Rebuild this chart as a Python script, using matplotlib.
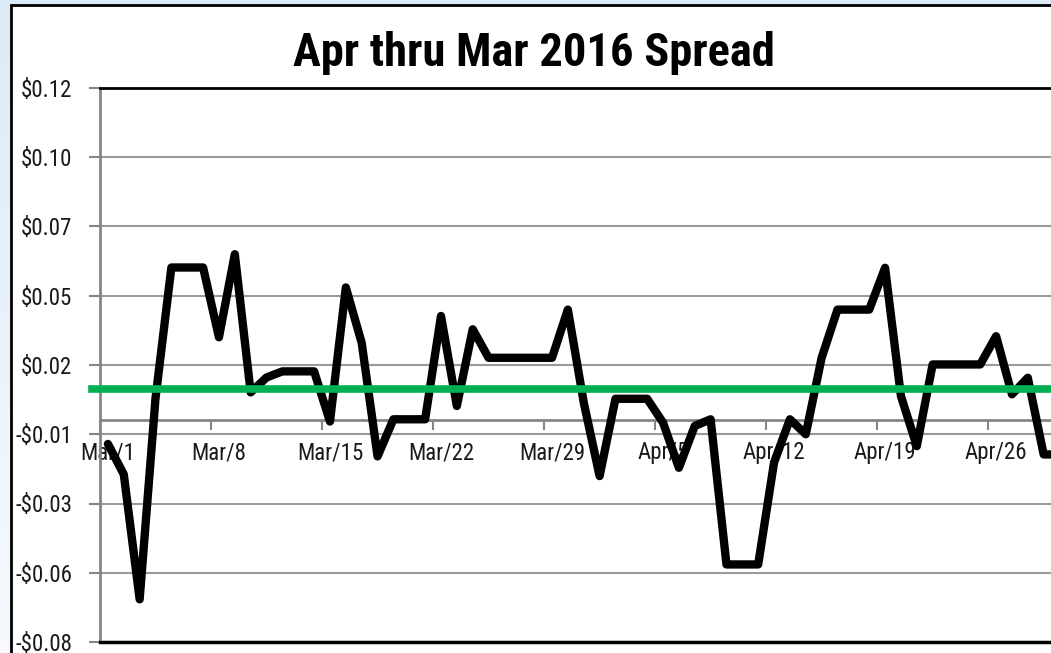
import numpy as np
import pandas as pd
import matplotlib

matplotlib.use('Agg')
import matplotlib.pyplot as plt
from matplotlib.patches import Rectangle
from matplotlib.ticker import FixedLocator, FuncFormatter

plt.rcParams['font.family'] = ['Roboto Condensed', 'Liberation Sans', 'DejaVu Sans']

# Daily spread, Mar/1 .. Apr/30 2016
dates = pd.date_range('2016-03-01', '2016-04-30', freq='D')
spread = [
    -0.0085, -0.0195, -0.0646, 0.0080, 0.0552, 0.0552, 0.0552, 0.0300, 0.0600, 0.0101,
    0.0155, 0.0177, 0.0177, 0.0177, -0.0004, 0.0480, 0.0280, -0.0130, 0.0004, 0.0004,
    0.0004, 0.0377, 0.0052, 0.0329, 0.0226, 0.0226, 0.0226, 0.0226, 0.0226, 0.0400,
    0.0065, -0.0201, 0.0078, 0.0078, 0.0078, -0.0008, -0.0171, -0.0020, 0.0004, -0.0520,
    -0.0520, -0.0520, -0.0152, 0.0004, -0.0050, 0.0226, 0.0400, 0.0400, 0.0400, 0.0551,
    0.0088, -0.0093, 0.0202, 0.0202, 0.0202, 0.0202, 0.0304, 0.0094, 0.0154, -0.0123,
    -0.0123,
]
average = 0.0115
title = "Apr thru Mar 2016 Spread"

y_min, y_max, y_step = -0.08, 0.12, 0.025

W, H = 1051, 653
fig = plt.figure(figsize=(W / 100, H / 100), dpi=100)

# light blue gradient background + white chart area with black border
bg = fig.add_axes([0, 0, 1, 1], zorder=-10)
grad = np.linspace(0, 1, 256).reshape(-1, 1)
c_top = np.array([0.86, 0.92, 0.97])
c_bot = np.array([0.97, 0.98, 0.99])
img = c_top + (c_bot - c_top) * grad[:, :, None]
bg.imshow(img, aspect='auto', extent=[0, 1, 0, 1])
bg.axis('off')
fig.patches.append(Rectangle((11 / W, -0.05), 1.0, (H - 5) / H + 0.05,
                             transform=fig.transFigure, facecolor='white',
                             edgecolor='black', lw=2, zorder=-5))

n = len(dates)
px_day = 15.86
ax = fig.add_axes([100 / W, 11 / H, n * px_day / W, (642 - 88) / H])
ax.set_facecolor('white')

x = np.arange(n)
ax.plot(x, spread, color='black', lw=6, solid_joinstyle='round',
        solid_capstyle='round', zorder=4)
ax.axhline(average, xmin=-8 / (n * px_day), xmax=1, color='#00b050', lw=5.5,
           clip_on=False, zorder=5)

ax.set_xlim(-0.5, n - 0.5)
ax.set_ylim(y_min, y_max)

yticks = np.arange(y_min, y_max + y_step / 2, y_step)


def money(v, pos=None):
    cents = np.floor(abs(v) * 100 + 0.5 + 1e-9) / 100
    return f"-${cents:.2f}" if v < -1e-9 else f"${cents:.2f}"


ax.yaxis.set_major_locator(FixedLocator(yticks))
ax.yaxis.set_major_formatter(FuncFormatter(money))
ax.grid(axis='y', color='#9a9a9a', lw=1.5)
ax.set_axisbelow(True)
ax.tick_params(axis='y', length=8, width=1.5, color='#868686', pad=12,
               labelsize=16.5, labelcolor='#1a1a1a')

# x axis sits at zero; labels centred on the day, tick marks on day boundaries
label_idx = np.arange(0, n, 7)
ax.set_xticks(label_idx - 0.5)
ax.set_xticklabels([])
ax.set_xticks(label_idx, minor=True)
ax.set_xticklabels([f"{d.strftime('%b')}/{d.day}" for d in dates[label_idx]], minor=True)
ax.tick_params(axis='x', which='major', length=7, width=1.5, color='#868686')
ax.tick_params(axis='x', which='minor', length=0, pad=15, labelsize=16.5,
               labelcolor='#1a1a1a')

ax.spines['bottom'].set_position(('data', 0))
ax.spines['bottom'].set_color('#868686')
ax.spines['bottom'].set_linewidth(2)
ax.spines['left'].set_color('#868686')
ax.spines['left'].set_linewidth(2)
ax.spines['top'].set_color('black')
ax.spines['top'].set_linewidth(2)
ax.spines['right'].set_visible(False)
ax.axhline(y_min, color='black', lw=2.5, clip_on=False, zorder=3)

fig.text(534 / W, 1 - 53 / H, title, ha='center', va='center',
         fontsize=33.5, fontweight='semibold', color='black')

fig.savefig('out.png', dpi=100)
